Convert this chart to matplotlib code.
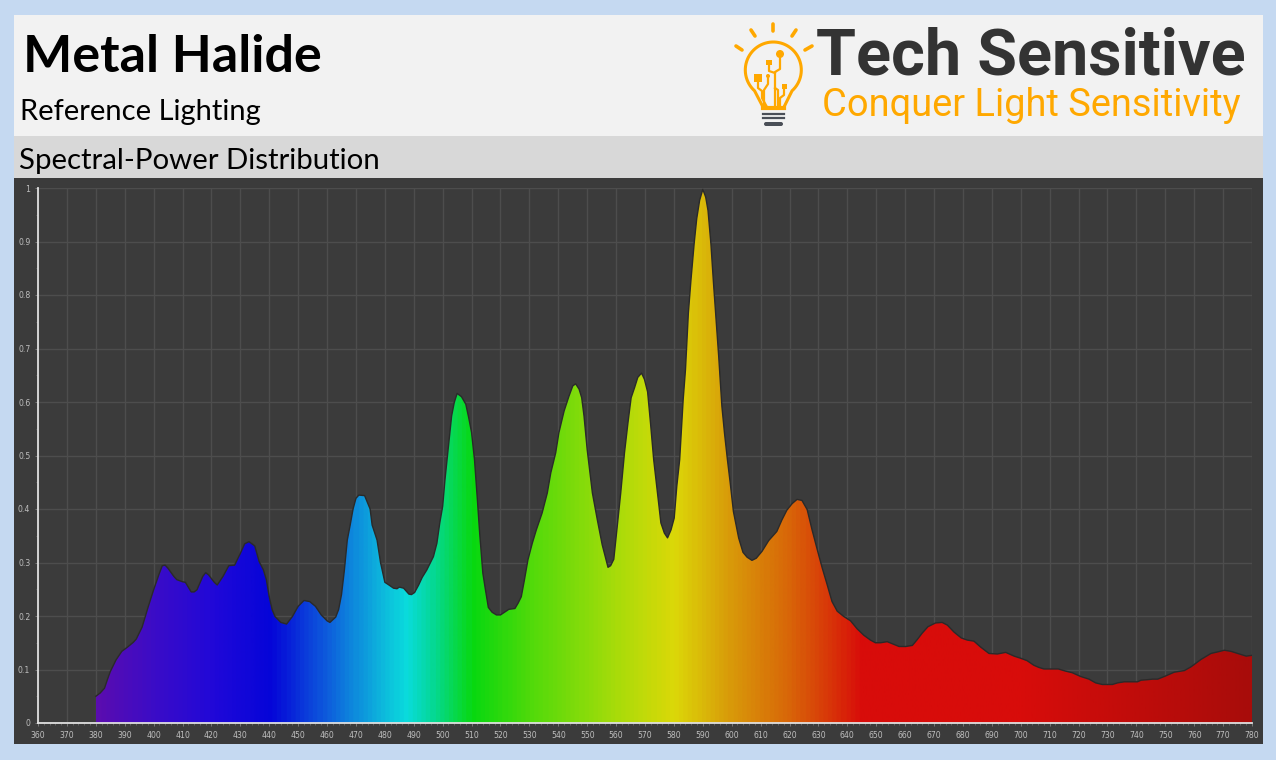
import numpy as np
import matplotlib
matplotlib.use('Agg')
import matplotlib.pyplot as plt
from matplotlib.colors import LinearSegmentedColormap
from matplotlib.patches import Rectangle, Circle, FancyBboxPatch
from matplotlib.ticker import MultipleLocator, FuncFormatter

# spectrum
wavelength = [380, 381.5, 383, 384, 385, 387, 389, 391, 393, 394, 396, 398, 400, 402, 403, 404, 405, 407, 408, 410,
              411, 413, 414, 415, 417, 418, 419, 421, 422, 424, 426, 428, 430, 431.5, 433, 435, 436.5, 438, 439, 440,
              441, 442, 444, 446, 448, 450, 452, 454, 456, 458, 460, 461, 463, 464, 465, 466, 467, 468, 469, 470,
              471, 473, 474.9, 475.6, 477.3, 478.5, 480, 481.4, 483, 484.2, 485, 486.5, 487, 488.3, 489.2, 490.3,
              491.7, 492.9, 494.5, 496.8, 498, 499, 500, 500.8, 502, 503.1, 504, 505, 506.5, 508, 509, 510, 511, 512,
              512.8, 513.9, 514.8, 515.8, 517.1, 518.6, 520, 521.4, 522.9, 525, 526.1, 527.2, 528.3, 529.5, 531,
              532.4, 534.4, 536.2, 537.4, 539.1, 540.2, 542, 543.7, 545, 546, 547.2, 548.1, 548.9, 550, 551.8, 553.5,
              555.2, 557.2, 558.1, 559.2, 560.4, 561.6, 562.9, 564.1, 565.2, 566.4, 567.5, 568.8, 569.8, 570.9,
              571.9, 573, 574.2, 575.5, 576.7, 577.8, 579, 580.1, 581, 582, 583.2, 584, 585, 585.9, 587, 587.9,
              588.9, 590, 591, 591.8, 592.8, 593.7, 594.6, 595.5, 596.6, 597.5, 598.5, 599.5, 600.6, 602.4, 603.9,
              605.3, 607, 608.5, 610.5, 612.8, 615.6, 617.4, 619.1, 620.9, 622.6, 624.3, 626.1, 627.8, 629.6, 631.3,
              633, 634.7, 636.5, 638.8, 641.1, 643.4, 645.7, 648, 649.7, 651.5, 653.8, 656.1, 657.9, 660.2, 662.5,
              664.2, 665.9, 667.9, 670.5, 672.8, 674.6, 676.9, 679.4, 681.5, 683.8, 686.1, 689, 691.9, 694.8, 697.7,
              700, 702.2, 704.5, 706.2, 708, 710, 713, 715.5, 717.8, 720.7, 723.6, 725.9, 728.2, 731.7, 733.5, 735.8,
              740.4, 741.6, 743.9, 745.6, 747.4, 749.7, 753.1, 756.6, 758.9, 762.4, 765.8, 768.2, 770.4, 772.7, 775,
              778, 780]
power = [.05, .056, .065, .081, .096, .118, .134, .142, .151, .157, .179, .215, .249, .28, .294, .295, .289, .274, .268, .264,
         .263, .245, .245, .249, .274, .281, .277, .263, .258, .274, .294, .295, .317, .335, .339, .331, .302, .286, .268, .236,
         .212, .199, .188, .185, .199, .218, .229, .227, .218, .202, .191, .188, .198, .212, .24, .286, .342, .37, .40, .42,
         .426, .425, .40, .37, .342, .30, .263, .258, .252, .251, .254, .252, .249, .241, .24, .244,
         .258, .272, .286, .311, .336, .374, .405, .455, .518, .574, .599, .616, .61, .596, .571, .543, .493, .418,
         .355, .28, .249, .216, .207, .202, .202, .207, .2125, .214, .224, .236, .268, .305, .336,
         .361, .3925, .43, .4675, .505, .5425, .583, .611, .63, .634, .624, .608, .574, .511, .43, .38,
         .333, .291, .294, .306, .3675, .43, .505, .561, .608, .627, .646, .654, .6425, .619,
         .561, .4925, .436, .374, .355, .346, .361, .383, .4425, .4925, .604, .66, .766, .828, .896, .943,
         .977, .9975, .983, .958, .896, .822, .753, .685, .592, .542, .493, .448, .395, .346, .319,
         .31, .304, .308, .321, .341, .358, .38, .398, .41, .418, .416, .399, .361, .324, .29,
         .259, .227, .209, .199, .191, .176, .164, .155, .15, .15, .152, .147, .143, .143, .145,
         .156, .168, .18, .187, .188, .183, .17, .159, .155, .153, .142, .13, .129, .132, .125,
         .121, .1165, .108, .104, .101, .101, .101, .097, .094, .087, .082, .075, .072, .072, .075, .077,
         .077, .08, .081, .082, .082, .087, .095, .098, .105, .119, .13, .133, .136, .134, .13,
         .125, .1265]

# colours of the fill along the wavelength axis
stop_nm = [380, 400, 420, 440, 460, 470, 480, 487, 495, 510, 530, 560, 580, 600, 620, 635, 645, 700, 780]
stop_col = ['#5A0DB0', '#3A0CC8', '#2008D8', '#0505D8', '#0E60DC', '#0D90DC', '#0DBEDC', '#0ADCDC', '#05D8A0',
            '#08D810', '#50DA0A', '#A8DC0A', '#DCD808', '#D8980A', '#D86508', '#D83208', '#D80C0A', '#D80C0A', '#A80C0A']

xticks = list(range(360, 790, 10))
yticks = [0, .1, .2, .3, .4, .5, .6, .7, .8, .9, 1]

W, H = 1276, 760
fig = plt.figure(figsize=(W / 100, H / 100), dpi=100, facecolor='#C5D9F1')

# page in pixel coordinates
bg = fig.add_axes([0, 0, 1, 1], zorder=0)
bg.set_xlim(0, W)
bg.set_ylim(H, 0)
bg.axis('off')
bg.add_patch(Rectangle((14, 15), 1249, 121, fc='#F2F2F2', ec='none'))
bg.add_patch(Rectangle((14, 136), 1249, 42, fc='#D8D8D8', ec='none'))
bg.add_patch(Rectangle((14, 178), 1249, 566, fc='#3B3B3B', ec='none'))

bg.text(23, 57, 'Metal Halide', family='Lato', weight='bold', fontsize=37.5, color='black', va='center')
bg.text(20, 112, 'Reference Lighting', family='Lato', fontsize=21, color='black', va='center')
bg.text(19, 161, 'Spectral-Power Distribution', family='Lato', fontsize=21.2, color='black', va='center')

bg.text(816, 57, 'Tech Sensitive', family='Roboto', weight='bold', fontsize=46.6, color='#333333', va='center')
bg.text(822, 106, 'Conquer Light Sensitivity', family='Roboto', fontsize=27.4, color='#FFA800', va='center')

# bulb logo
org = '#FFA800'
ang = np.radians(np.linspace(-138, 138, 60))
bx = [763] + list(773.3 + 28 * np.sin(ang)) + [784]
by = [107] + list(70 - 28 * np.cos(ang)) + [107]
bg.plot(bx, by, color=org, lw=2.2)
bg.plot([763, 784], [108, 108], color=org, lw=3)
for x0, y0, x1, y1 in [(773, 24, 773, 31), (751, 30, 755, 36), (796, 30, 792, 36), (736, 46, 742, 50), (812, 46, 805, 50)]:
    bg.plot([x0, x1], [y0, y1], color=org, lw=2.6, solid_capstyle='round')
bg.add_patch(Rectangle((754, 74), 8, 8, fc=org, ec='none'))
bg.add_patch(Rectangle((766, 60), 6, 5, fc=org, ec='none'))
bg.add_patch(Rectangle((782, 84), 5, 5, fc=org, ec='none'))
bg.add_patch(Circle((780, 54), 4, fc=org, ec='none'))
bg.add_patch(Circle((768, 76), 2, fc=org, ec='none'))
for xs, ys in [([780, 780, 775, 775, 775], [54, 69, 72, 85, 107]),
               ([769, 769, 775], [62, 71, 73]),
               ([758, 758, 762, 762, 767], [80, 88, 91, 98, 107]),
               ([768, 768, 764, 764], [76, 84, 90, 105]),
               ([784, 784, 780, 780], [88, 95, 98, 107]),
               ([775, 778, 778], [88, 90, 106])]:
    bg.plot(xs, ys, color=org, lw=1.6)
for y in [114, 118]:
    bg.plot([763, 784], [y, y], color='#4A4F57', lw=1.6)
bg.add_patch(FancyBboxPatch((764, 122), 19, 4, boxstyle='round,pad=0,rounding_size=2', fc='#4A4F57', ec='none'))

# chart
ax = fig.add_axes([38 / W, (H - 723) / H, (1252 - 38) / W, (723 - 188) / H], zorder=1)
ax.set_facecolor('#3B3B3B')

cmap = LinearSegmentedColormap.from_list('spd', [((n - 380) / 400, c) for n, c in zip(stop_nm, stop_col)])
img = ax.imshow(np.linspace(0, 1, 800).reshape(1, -1), cmap=cmap, extent=[380, 780, 0, 1], aspect='auto', zorder=2)
area = ax.fill_between(wavelength, power, 0, fc='none', ec='none', zorder=2)
img.set_clip_path(area.get_paths()[0], transform=ax.transData)
ax.plot(wavelength, power, color='#2A2A2A', lw=1, zorder=3)

ax.set_xlim(360, 780)
ax.set_ylim(0, 1)
ax.set_xticks(xticks)
ax.set_yticks(yticks)
ax.yaxis.set_major_formatter(FuncFormatter(lambda v, p: '%g' % v))
ax.xaxis.set_minor_locator(MultipleLocator(2))
ax.yaxis.set_minor_locator(MultipleLocator(.05))
ax.grid(True, which='major', color='#4D4D4D', lw=1, zorder=1)
ax.set_axisbelow(True)
ax.tick_params(which='major', length=2.5, width=.7, color='#777777', labelcolor='#BEBEBE', labelsize=5.6, pad=3)
ax.tick_params(which='minor', length=1.5, width=.6, color='#6A6A6A')
for s in ['top', 'right']:
    ax.spines[s].set_visible(False)
for s in ['left', 'bottom']:
    ax.spines[s].set_color('#E0E0E0')
    ax.spines[s].set_linewidth(1.3)

plt.savefig('out.png', dpi=100, facecolor=fig.get_facecolor())
